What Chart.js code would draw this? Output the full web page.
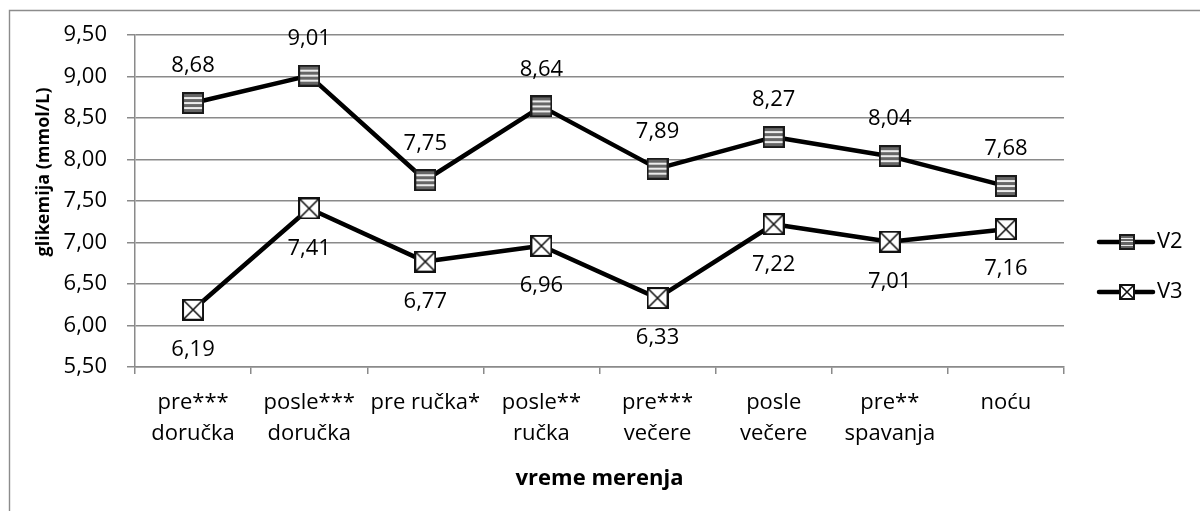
<!DOCTYPE html>
<html>
<head>
<meta charset="utf-8">
<script src="https://cdn.jsdelivr.net/npm/chart.js@4.4.1/dist/chart.umd.min.js"></script>
<style>
  html, body { margin: 0; padding: 0; background: #fff; }
  #wrap { width: 1200px; height: 511px; position: relative; }
</style>
</head>
<body>
<div id="wrap"><canvas id="chart" width="1200" height="511"></canvas></div>
<script>
// Measurement times (x categories)
const categories = [
  ['pre***', 'doručka'],
  ['posle***', 'doručka'],
  'pre ručka*',
  ['posle**', 'ručka'],
  ['pre***', 'večere'],
  ['posle', 'večere'],
  ['pre**', 'spavanja'],
  'noću'
];
const seriesNames = ['V2', 'V3'];
const v2Values = [8.68, 9.01, 7.75, 8.64, 7.89, 8.27, 8.04, 7.68];
const v3Values = [6.19, 7.41, 6.77, 6.96, 6.33, 7.22, 7.01, 7.16];
const yTickValues = [5.5, 6.0, 6.5, 7.0, 7.5, 8.0, 8.5, 9.0, 9.5];
const yTitle = 'glikemija (mmol/L)';
const xTitle = 'vreme merenja';

const FONT = '"Open Sans", "DejaVu Sans", sans-serif';
const GRID = '#8a8a8a';
const fmt = v => v.toFixed(2).replace('.', ',');

// Marker images: striped square (V2) and crossed square (V3)
function stripedSquare(size) {
  const c = document.createElement('canvas');
  c.width = size; c.height = size;
  const g = c.getContext('2d');
  g.fillStyle = '#666';
  g.fillRect(0, 0, size, size);
  g.fillStyle = '#ececec';
  const band = Math.max(1, Math.round(size / 11));
  const step = size / 4.4;
  for (let y = step; y < size - 3; y += step) {
    g.fillRect(2, Math.round(y), size - 4, band);
  }
  g.strokeStyle = '#1a1a1a';
  g.lineWidth = 2;
  g.strokeRect(1, 1, size - 2, size - 2);
  return c;
}
function crossedSquare(size) {
  const c = document.createElement('canvas');
  c.width = size; c.height = size;
  const g = c.getContext('2d');
  g.fillStyle = '#fff';
  g.fillRect(0, 0, size, size);
  g.strokeStyle = '#111';
  g.lineWidth = 1.6;
  g.beginPath();
  g.moveTo(2, 2); g.lineTo(size - 2, size - 2);
  g.moveTo(size - 2, 2); g.lineTo(2, size - 2);
  g.stroke();
  g.lineWidth = 2;
  g.strokeRect(1, 1, size - 2, size - 2);
  return c;
}
const plotMarkers = [stripedSquare(22), crossedSquare(22)];
const legendMarkers = [stripedSquare(16), crossedSquare(16)];

// Outer frame (top and left edges of the chart box)
const framePlugin = {
  id: 'frame',
  beforeDraw(chart) {
    const ctx = chart.ctx;
    ctx.save();
    ctx.fillStyle = '#fff';
    ctx.fillRect(0, 0, chart.width, chart.height);
    ctx.strokeStyle = '#8c8c8c';
    ctx.lineWidth = 1.4;
    ctx.beginPath();
    ctx.moveTo(9.5, chart.height);
    ctx.lineTo(9.5, 10.5);
    ctx.lineTo(chart.width, 10.5);
    ctx.stroke();
    ctx.restore();
  }
};

// Value labels: V2 above its points, V3 below
const valueLabels = {
  id: 'valueLabels',
  afterDatasetsDraw(chart) {
    const ctx = chart.ctx;
    ctx.save();
    ctx.font = '22px ' + FONT;
    ctx.fillStyle = '#000';
    ctx.textAlign = 'center';
    ctx.textBaseline = 'middle';
    chart.data.datasets.forEach((ds, i) => {
      const meta = chart.getDatasetMeta(i);
      meta.data.forEach((pt, j) => {
        const dy = i === 0 ? -37 : 40;
        ctx.fillText(fmt(ds.data[j]), pt.x, pt.y + dy);
      });
    });
    ctx.restore();
  }
};

// Rotated y-axis title and side legend
const sideTexts = {
  id: 'sideTexts',
  afterDraw(chart) {
    const ctx = chart.ctx;
    const area = chart.chartArea;
    ctx.save();
    ctx.translate(43.5, 172);
    ctx.rotate(-Math.PI / 2);
    ctx.font = 'bold 18px ' + FONT;
    ctx.fillStyle = '#000';
    ctx.textAlign = 'center';
    ctx.textBaseline = 'middle';
    ctx.fillText(yTitle, 0, 0);
    ctx.restore();

    const legendY = [242, 292];
    chart.data.datasets.forEach((ds, i) => {
      const y = legendY[i];
      const x0 = area.right + 35;
      ctx.save();
      ctx.strokeStyle = '#000';
      ctx.lineWidth = 4.5;
      ctx.lineCap = 'round';
      ctx.beginPath();
      ctx.moveTo(x0, y);
      ctx.lineTo(x0 + 54, y);
      ctx.stroke();
      const m = legendMarkers[i];
      ctx.drawImage(m, Math.round(x0 + 28 - m.width / 2), Math.round(y - m.height / 2));
      ctx.font = '22px ' + FONT;
      ctx.fillStyle = '#000';
      ctx.textAlign = 'left';
      ctx.textBaseline = 'middle';
      ctx.fillText(ds.label, x0 + 58, y);
      ctx.restore();
    });
  }
};

new Chart(document.getElementById('chart'), {
  type: 'line',
  data: {
    labels: categories,
    datasets: [
      { label: seriesNames[0], data: v2Values, pointStyle: plotMarkers[0] },
      { label: seriesNames[1], data: v3Values, pointStyle: plotMarkers[1] }
    ].map(d => Object.assign(d, {
      borderColor: '#000',
      backgroundColor: '#000',
      borderWidth: 4.5,
      borderJoinStyle: 'round',
      borderCapStyle: 'round',
      tension: 0
    }))
  },
  options: {
    responsive: false,
    animation: false,
    devicePixelRatio: 1,
    events: [],
    layout: { padding: { left: 60, right: 136, top: 35, bottom: 0 } },
    plugins: { legend: { display: false }, tooltip: { enabled: false } },
    scales: {
      x: {
        offset: true,
        grid: { offset: true, drawOnChartArea: false, drawTicks: true, tickLength: 7, color: GRID, lineWidth: 1.5 },
        border: { color: GRID, width: 1.5 },
        ticks: { color: '#000', padding: 13, font: { family: FONT, size: 22, lineHeight: 1.41 }, maxRotation: 0, autoSkip: false },
        title: { display: true, text: xTitle, color: '#000', font: { family: FONT, size: 22, weight: 'bold', lineHeight: 1.2 }, padding: { top: 0, bottom: 19 } },
        afterFit(scale) { scale.height = 144; }
      },
      y: {
        min: 5.5,
        max: 9.5,
        afterBuildTicks(scale) { scale.ticks = yTickValues.map(v => ({ value: v })); },
        afterFit(scale) { scale.width = 75; },
        grid: { color: GRID, lineWidth: 1.5, drawTicks: true, tickLength: 8 },
        border: { color: GRID, width: 1.5 },
        ticks: { color: '#000', padding: 20, font: { family: FONT, size: 22 }, callback: v => fmt(v) }
      }
    }
  },
  plugins: [framePlugin, valueLabels, sideTexts]
});
</script>
</body>
</html>
